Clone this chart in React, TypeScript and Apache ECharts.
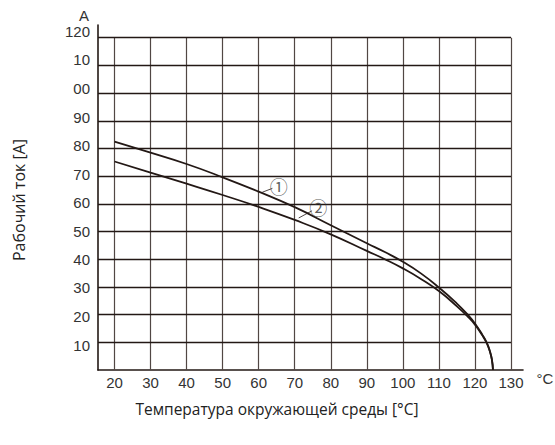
import React, { useEffect, useRef } from 'react';
import * as echarts from 'echarts';

// Curve ① : ambient temperature (°C) vs operating current (A)
const temps1 = [20, 30, 40, 50, 60, 70, 80, 90, 95, 100, 105, 110, 115, 118, 120, 122, 123.3, 124.2, 124.7, 125];
const current1 = [82.5, 78.5, 74.4, 69.6, 64.4, 58.8, 52.3, 45.8, 42.6, 39.1, 34.9, 29.8, 24.0, 20.0, 16.8, 12.8, 9.8, 6.5, 3.8, 0];
// Curve ②
const temps2 = [20, 30, 40, 50, 60, 70, 80, 90, 95, 100, 105, 110, 115, 118, 120, 122, 123.3, 124.2, 124.7, 125];
const current2 = [75.3, 71.3, 67.3, 63.2, 58.9, 54.2, 49.0, 43.0, 40.0, 36.7, 32.9, 28.5, 23.0, 19.3, 16.4, 12.6, 9.6, 6.4, 3.7, 0];

// Callouts
const calloutNames = ['①', '②'];
const calloutPos = [[65.6, 66.6], [76.5, 58.7]];
const leaderStart = [[61.0, 64.2], [71.1, 54.9]];
const leaderEnd = [[63.8, 65.6], [74.8, 57.5]];

const xTicks = [20, 30, 40, 50, 60, 70, 80, 90, 100, 110, 120, 130];
const yTicks = [10, 20, 30, 40, 50, 60, 70, 80, 90, 100, 110, 120];
const yTickLabels = ['10', '20', '30', '40', '50', '60', '70', '80', '90', '00', '10', '120'];

const X_MIN = 15.42;
const X_MAX = 133.33;
const Y_MAX = 124.6;
const INK = '#231815';

export default function App() {
  const ref = useRef<HTMLDivElement>(null);
  useEffect(() => {
    if (!ref.current) return;
    const chart = echarts.init(ref.current, undefined, { renderer: 'svg' });

    const rich: Record<string, any> = {};
    yTicks.forEach((v) => {
      const off = 2.8 - ((v - 10) * 8.9) / 110; // + = down, - = up
      const d = Math.round(Math.abs(off) * 2);
      rich['o' + v] = {
        fontSize: 15,
        fontFamily: 'Liberation Sans',
        color: '#333',
        padding: off < 0 ? [0, 0, d, 0] : [d, 0, 0, 0],
      };
    });

    const vLines = xTicks.map((x) => [{ coord: [x, 0] }, { coord: [x, 120] }]);
    const hLines = yTicks.map((y) => [{ coord: [X_MIN, y] }, { coord: [130, y] }]);

    chart.setOption({
      animation: false,
      backgroundColor: '#fff',
      grid: { left: 98, right: 32, top: 25, bottom: 75, containLabel: false },
      xAxis: {
        type: 'value',
        min: X_MIN,
        max: X_MAX,
        axisLine: { show: true, lineStyle: { color: INK, width: 1.6 } },
        axisTick: { show: false },
        splitLine: { show: false },
        axisLabel: {
          customValues: xTicks,
          margin: 5,
          fontSize: 15,
          fontFamily: 'Liberation Sans',
          color: '#333',
        },
      },
      yAxis: {
        type: 'value',
        min: 0,
        max: Y_MAX,
        axisLine: { show: true, lineStyle: { color: INK, width: 1.6 } },
        axisTick: { show: false },
        splitLine: { show: false },
        axisLabel: {
          customValues: yTicks,
          margin: 8,
          fontSize: 15,
          fontFamily: 'Liberation Sans',
          color: '#333',
          formatter: (v: number) => {
            const i = yTicks.indexOf(Math.round(v));
            if (i < 0) return '';
            return '{o' + yTicks[i] + '|' + yTickLabels[i] + '}';
          },
          rich,
        },
      },
      graphic: [
        {
          type: 'text',
          style: { text: 'A', x: 84, y: 15, align: 'center', verticalAlign: 'middle', font: '15px "Liberation Sans"', fill: '#333' },
        },
        {
          type: 'text',
          style: { text: '°C', x: 545, y: 378, align: 'center', verticalAlign: 'middle', font: '15px "Liberation Sans"', fill: '#333' },
        },
        {
          type: 'text',
          style: { text: 'Температура окружающей среды [°C]', x: 277, y: 409, align: 'center', verticalAlign: 'middle', font: '15.5px "Open Sans"', fill: '#222' },
        },
        {
          type: 'text',
          x: 19,
          y: 200,
          rotation: Math.PI / 2,
          style: { text: 'Рабочий ток [A]', x: 0, y: 0, align: 'center', verticalAlign: 'middle', font: '16px "Open Sans"', fill: '#222' },
        },
      ],
      series: [
        {
          type: 'line',
          name: 'grid',
          data: [],
          silent: true,
          markLine: {
            silent: true,
            symbol: ['none', 'none'],
            label: { show: false },
            lineStyle: { type: 'solid', color: '#514744', width: 1.2 },
            data: vLines,
          },
        },
        {
          type: 'line',
          name: 'grid-h',
          data: [],
          silent: true,
          markLine: {
            silent: true,
            symbol: ['none', 'none'],
            label: { show: false },
            lineStyle: { type: 'solid', color: INK, width: 1.3 },
            data: hLines,
          },
        },
        {
          type: 'line',
          name: '①',
          data: temps1.map((t, i) => [t, current1[i]]),
          smooth: 0.5,
          showSymbol: false,
          lineStyle: { color: INK, width: 1.8 },
          z: 5,
        },
        {
          type: 'line',
          name: '②',
          data: temps2.map((t, i) => [t, current2[i]]),
          smooth: 0.5,
          showSymbol: false,
          lineStyle: { color: INK, width: 1.8 },
          z: 5,
        },
        ...calloutNames.map((n, i) => ({
          type: 'line',
          name: 'leader' + i,
          data: [leaderStart[i], leaderEnd[i]],
          showSymbol: false,
          lineStyle: { color: INK, width: 0.8 },
          z: 5,
        })),
        {
          type: 'scatter',
          name: 'callouts',
          data: calloutNames.map((n, i) => ({ value: calloutPos[i], name: n })),
          symbolSize: 1,
          itemStyle: { color: 'rgba(0,0,0,0)' },
          label: {
            show: true,
            position: 'inside',
            formatter: (p: any) => p.name,
            fontSize: 18,
            fontFamily: 'Noto Sans CJK JP',
            color: '#333',
          },
          z: 6,
        },
      ],
    });
    return () => chart.dispose();
  }, []);
  return <div ref={ref} style={{ position: 'fixed', left: 0, top: 0, width: 555, height: 445 }} />;
}
